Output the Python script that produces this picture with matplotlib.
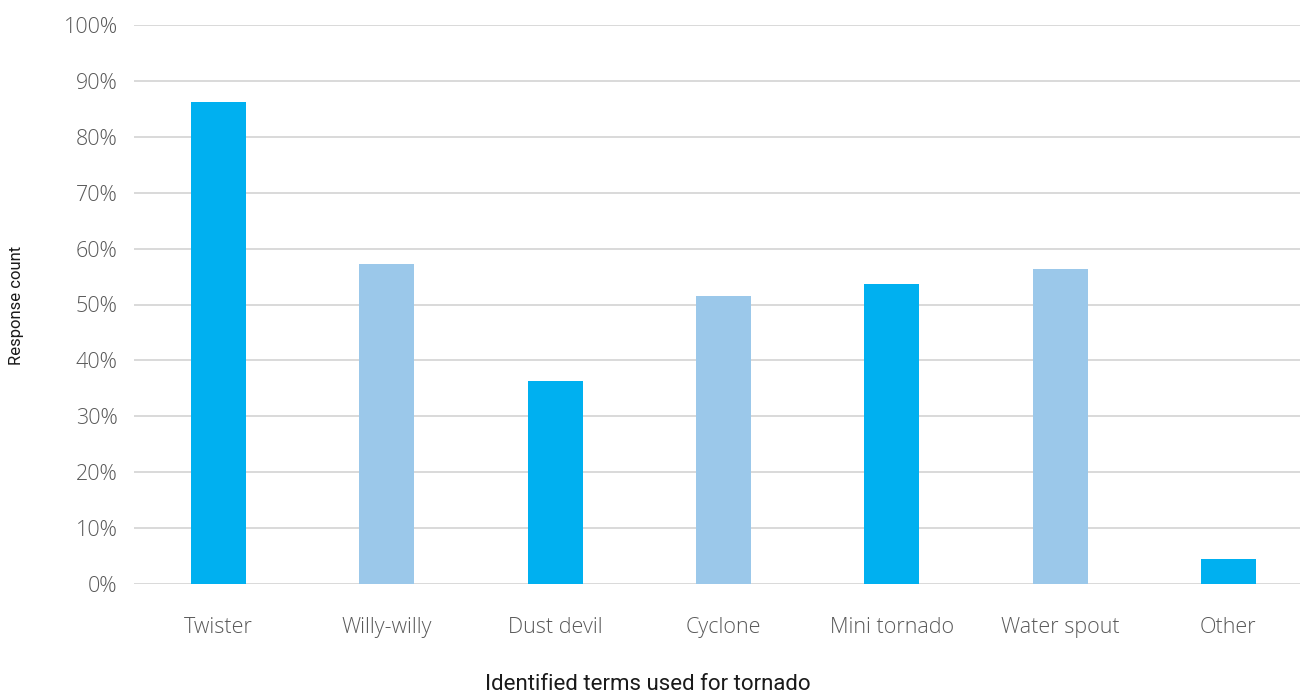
import matplotlib
matplotlib.use("Agg")
import matplotlib.pyplot as plt
from matplotlib.ticker import FuncFormatter

categories = ["Twister", "Willy-willy", "Dust devil", "Cyclone", "Mini tornado", "Water spout", "Other"]
values = [86.2, 57.3, 36.4, 51.6, 53.7, 56.4, 4.5]
colors = ["#00B0F0", "#9BC8EA", "#00B0F0", "#9BC8EA", "#00B0F0", "#9BC8EA", "#00B0F0"]
yticks = [0, 10, 20, 30, 40, 50, 60, 70, 80, 90, 100]

fig = plt.figure(figsize=(13, 6.95), dpi=100)
W, H = 1300, 695
left = 134.4 / W
width = (7 * 168.3) / W
bottom = (H - 584) / H
height = (584 - 25) / H
ax = fig.add_axes([left, bottom, width, height])

x = list(range(len(categories)))
ax.bar(x, values, width=0.327, color=colors, zorder=3)
ax.set_xlim(-0.5, len(categories) - 0.5)
ax.set_ylim(0, 100)
ax.set_yticks(yticks)
ax.yaxis.set_major_formatter(FuncFormatter(lambda v, p: f"{int(v)}%"))
ax.set_xticks(x)
ax.set_xticklabels(categories)

for s in ax.spines.values():
    s.set_visible(False)
ax.grid(axis="y", color="#D9D9D9", linewidth=1.4, zorder=0)
ax.tick_params(axis="both", length=0, labelsize=15.5, labelcolor="#595959")
ax.tick_params(axis="x", pad=24)
ax.tick_params(axis="y", pad=12)
for lab in ax.get_xticklabels() + ax.get_yticklabels():
    lab.set_fontfamily("Open Sans")
    lab.set_fontweight("light")

fig.text(17 / W, 1 - 305 / H, "Response count", rotation=90, ha="center", va="center",
         fontsize=12, color="#1a1a1a", fontfamily="Roboto")
fig.text(648 / W, 1 - 684 / H, "Identified terms used for tornado", ha="center", va="center",
         fontsize=16, color="#1a1a1a", fontfamily="Roboto")

fig.savefig("out.png", dpi=100)
